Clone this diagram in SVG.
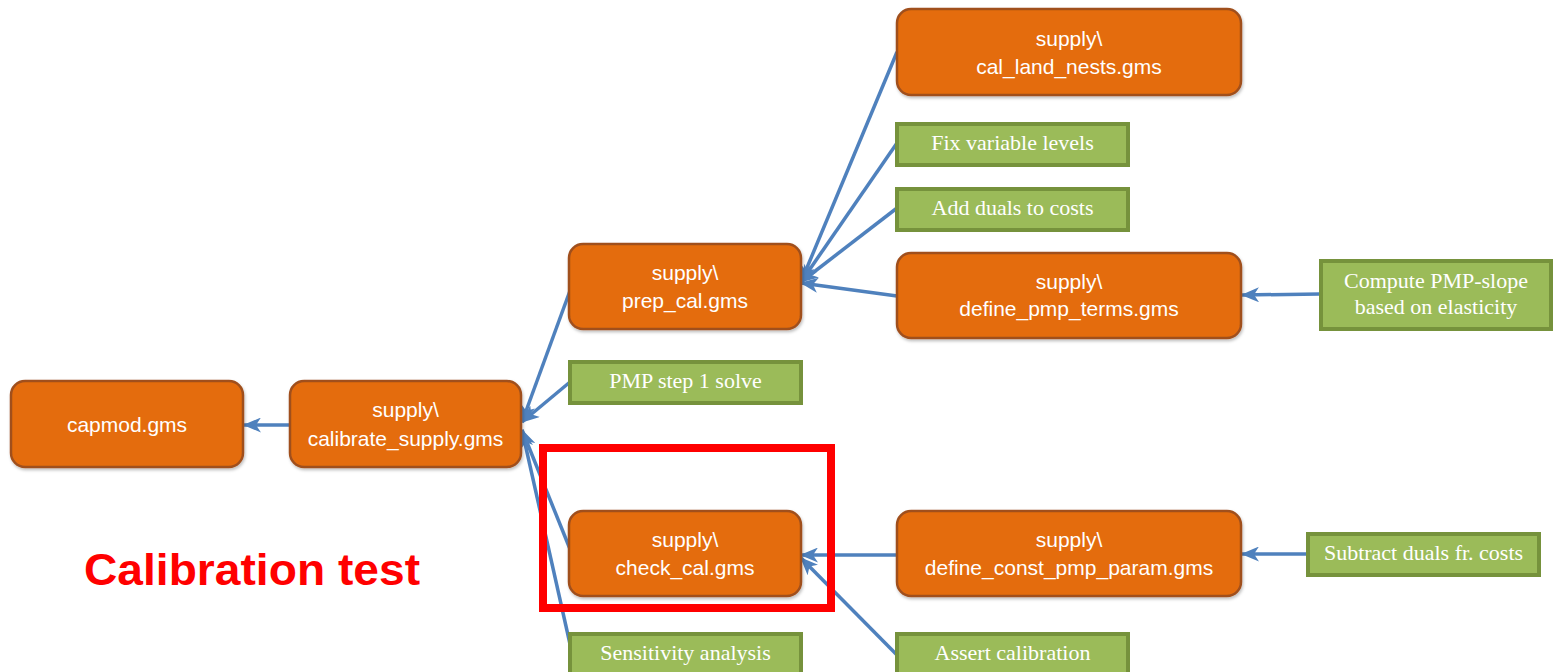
<svg xmlns="http://www.w3.org/2000/svg" width="1553" height="672" viewBox="0 0 1553 672">
<defs>
<marker id="arr" viewBox="0 0 18 15" refX="17" refY="7.5" markerWidth="18" markerHeight="15" markerUnits="userSpaceOnUse" orient="auto">
<path d="M0,0 L18,7.5 L0,15 L5,7.5 Z" fill="#4F81BD"/>
</marker>
<filter id="sh" x="-5%" y="-5%" width="112%" height="120%">
<feDropShadow dx="1" dy="2" stdDeviation="1.5" flood-color="#000" flood-opacity="0.25"/>
</filter>
</defs>
<style>
.o{fill:#E46C0A;stroke:#A0501E;stroke-width:2.5;filter:url(#sh)}
.g{fill:#9BBB59;stroke:#76923C;stroke-width:4}
.ot{font-family:"Liberation Sans",Arial,sans-serif;font-size:21px;fill:#fff;text-anchor:middle}
.gt{font-family:"Liberation Serif","Times New Roman",serif;font-size:22px;fill:#fff;text-anchor:middle}
.c{stroke:#4F81BD;stroke-width:3.5;fill:none;marker-end:url(#arr)}
</style>
<rect width="1553" height="672" fill="#fff"/>
<g id="connectors">
<line class="c" x1="290" y1="425" x2="244" y2="425"/>
<line class="c" x1="571" y1="288" x2="522" y2="422"/>
<line class="c" x1="570" y1="382" x2="522" y2="422"/>
<line class="c" x1="572" y1="554" x2="522" y2="430"/>
<line class="c" x1="572" y1="653" x2="522" y2="430"/>
<line class="c" x1="897" y1="52" x2="801" y2="282"/>
<line class="c" x1="897" y1="143" x2="801" y2="282"/>
<line class="c" x1="897" y1="208" x2="801" y2="282"/>
<line class="c" x1="897" y1="296" x2="801" y2="283"/>
<line class="c" x1="1320" y1="294" x2="1242" y2="295"/>
<line class="c" x1="897" y1="555" x2="801" y2="555"/>
<line class="c" x1="897" y1="655" x2="801" y2="558"/>
<line class="c" x1="1307" y1="554" x2="1242" y2="554"/>
</g>
<g id="capmod">
<rect class="o" x="11" y="381" width="232" height="86" rx="14"/>
<text class="ot" x="127" y="432">capmod.gms</text>
</g>
<g id="calibrate_supply">
<rect class="o" x="290" y="381" width="231" height="86" rx="14"/>
<text class="ot" x="405.5" y="417">supply\</text>
<text class="ot" x="405.5" y="446">calibrate_supply.gms</text>
</g>
<g id="prep_cal">
<rect class="o" x="569" y="244" width="232" height="85" rx="14"/>
<text class="ot" x="685" y="280">supply\</text>
<text class="ot" x="685" y="308">prep_cal.gms</text>
</g>
<g id="cal_land_nests">
<rect class="o" x="897" y="9" width="344" height="86" rx="14"/>
<text class="ot" x="1069" y="46">supply\</text>
<text class="ot" x="1069" y="74">cal_land_nests.gms</text>
</g>
<g id="define_pmp_terms">
<rect class="o" x="897" y="253" width="344" height="85" rx="14"/>
<text class="ot" x="1069" y="289">supply\</text>
<text class="ot" x="1069" y="316">define_pmp_terms.gms</text>
</g>
<g id="check_cal">
<rect class="o" x="569" y="511" width="232" height="85" rx="14"/>
<text class="ot" x="685" y="547">supply\</text>
<text class="ot" x="685" y="575">check_cal.gms</text>
</g>
<g id="define_const_pmp_param">
<rect class="o" x="897" y="511" width="344" height="85" rx="14"/>
<text class="ot" x="1069" y="547">supply\</text>
<text class="ot" x="1069" y="575">define_const_pmp_param.gms</text>
</g>
<g id="fix_variable_levels">
<rect class="g" x="897" y="124" width="231" height="41"/>
<text class="gt" x="1012.5" y="150">Fix variable levels</text>
</g>
<g id="add_duals">
<rect class="g" x="897" y="189" width="231" height="41"/>
<text class="gt" x="1012.5" y="215">Add duals to costs</text>
</g>
<g id="pmp_step1">
<rect class="g" x="570" y="362" width="231" height="41"/>
<text class="gt" x="685.5" y="388">PMP step 1 solve</text>
</g>
<g id="compute_pmp_slope">
<rect class="g" x="1321" y="261" width="230" height="68"/>
<text class="gt" x="1436" y="288">Compute PMP-slope</text>
<text class="gt" x="1436" y="314">based on elasticity</text>
</g>
<g id="subtract_duals">
<rect class="g" x="1308" y="534" width="231" height="41"/>
<text class="gt" x="1423.5" y="560">Subtract duals fr. costs</text>
</g>
<g id="sensitivity">
<rect class="g" x="570" y="634" width="231" height="42"/>
<text class="gt" x="685.5" y="660">Sensitivity analysis</text>
</g>
<g id="assert_calibration">
<rect class="g" x="897" y="634" width="231" height="42"/>
<text class="gt" x="1012.5" y="660">Assert calibration</text>
</g>
<g id="highlight">
<rect x="543" y="448" width="288" height="160" fill="none" stroke="#FF0000" stroke-width="8"/>
<text x="84" y="585" font-family="'Liberation Sans',Arial,sans-serif" font-weight="bold" font-size="45" fill="#FF0000" textLength="336" lengthAdjust="spacingAndGlyphs">Calibration test</text>
</g>
</svg>
